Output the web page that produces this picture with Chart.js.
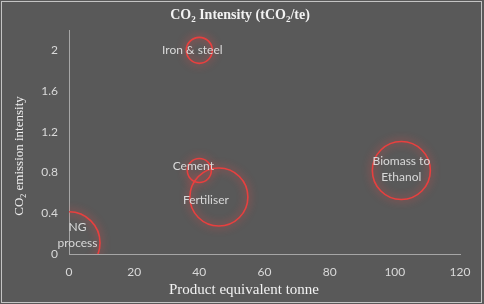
<!DOCTYPE html>
<html>
<head>
<meta charset="utf-8">
<script src="https://cdn.jsdelivr.net/npm/chart.js@4"></script>
<style>
  html, body { margin: 0; padding: 0; background: #595959; }
  #wrap { width: 484px; height: 304px; }
</style>
</head>
<body>
<div id="wrap"><canvas id="co2Chart" width="484" height="304"></canvas></div>
<script>
// data
const processes = ['Iron & steel', 'Cement', 'Fertiliser', 'Biomass to\nEthanol', 'NG\nprocess'];
const productTonnes = [40, 40, 46, 102, 0];
const emissionIntensity = [2.0, 0.82, 0.56, 0.82, 0.11];
const bubbleSize = [13, 12, 29, 29, 31];
const xTicks = [0, 20, 40, 60, 80, 100, 120];
const yTicks = [0, 0.4, 0.8, 1.2, 1.6, 2];

// where each label sits relative to its bubble centre (px)
const labelOffsets = [
    { dx: -7, dy: 0 },
    { dx: -6, dy: -4 },
    { dx: -13, dy: 3 },
    { dx: 0, dy: -1 },
    { dx: 8.5, dy: -7.5 }
];

const serif = "'Liberation Serif', 'Times New Roman', 'DejaVu Serif', serif";
const sans = "Lato, 'Open Sans', sans-serif";

// draws text pieces (some as subscripts) centred at 0,0 of the current transform
function drawSubText(ctx, parts, size, weight) {
    const sub = Math.round(size * 0.65);
    const fontFor = (isSub) => weight + ' ' + (isSub ? sub : size) + 'px ' + serif;
    const widths = parts.map(([t, isSub]) => {
        ctx.font = fontFor(isSub);
        return ctx.measureText(t).width;
    });
    let x = -widths.reduce((a, b) => a + b, 0) / 2;
    ctx.textAlign = 'left';
    ctx.textBaseline = 'middle';
    parts.forEach(([t, isSub], i) => {
        ctx.font = fontFor(isSub);
        ctx.fillText(t, x, isSub ? size * 0.3 : 0);
        x += widths[i];
    });
}

// background, frame, glow, bubble labels and titles
const decoPlugin = {
    id: 'deco',
    beforeDraw(chart) {
        const ctx = chart.ctx;
        ctx.save();
        ctx.fillStyle = '#595959';
        ctx.fillRect(0, 0, chart.width, chart.height);
        ctx.strokeStyle = '#c4c4c4';
        ctx.lineWidth = 1;
        ctx.strokeRect(1.5, 1.5, chart.width - 4, chart.height - 3);
        ctx.restore();
    },
    beforeDatasetsDraw(chart) {
        const ctx = chart.ctx;
        ctx.save();
        ctx.shadowColor = 'rgba(255, 70, 70, 0.9)';
        ctx.shadowBlur = 8;
    },
    afterDatasetsDraw(chart) {
        const ctx = chart.ctx;
        ctx.restore();

        const meta = chart.getDatasetMeta(0);
        ctx.save();
        ctx.fillStyle = '#d9d9d9';
        ctx.font = '12px ' + sans;
        ctx.textAlign = 'center';
        ctx.textBaseline = 'middle';
        meta.data.forEach((pt, i) => {
            const lines = processes[i].split('\n');
            const off = labelOffsets[i];
            const lh = 16;
            const y0 = pt.y + off.dy - (lines.length - 1) * lh / 2;
            lines.forEach((line, j) => {
                ctx.fillText(line, pt.x + off.dx, y0 + j * lh);
            });
        });
        ctx.restore();

        // chart title
        ctx.save();
        ctx.fillStyle = '#f2f2f2';
        ctx.translate(240, 15);
        drawSubText(ctx, [['CO', false], ['2', true], [' Intensity (tCO', false], ['2', true], ['/te)', false]], 14, 'bold');
        ctx.restore();

        // x axis title
        ctx.save();
        ctx.fillStyle = '#f2f2f2';
        ctx.font = '15px ' + serif;
        ctx.textAlign = 'center';
        ctx.textBaseline = 'middle';
        ctx.fillText('Product equivalent tonne', 244, 290);
        ctx.restore();

        // y axis title
        const area = chart.chartArea;
        ctx.save();
        ctx.fillStyle = '#f2f2f2';
        ctx.translate(20, (area.top + area.bottom) / 2 + 14);
        ctx.rotate(-Math.PI / 2);
        drawSubText(ctx, [['CO', false], ['2', true], [' emission intensity', false]], 13, 'normal');
        ctx.restore();
    }
};

const ctx = document.getElementById('co2Chart').getContext('2d');
const co2Chart = new Chart(ctx, {
    type: 'bubble',
    data: {
        datasets: [{
            label: 'CO2 Intensity',
            data: processes.map((p, i) => ({ x: productTonnes[i], y: emissionIntensity[i], r: bubbleSize[i] })),
            backgroundColor: 'rgba(0,0,0,0)',
            borderColor: '#e8403f',
            borderWidth: 1.6,
            hoverBorderWidth: 1.6,
            clip: 0
        }]
    },
    options: {
        responsive: false,
        animation: false,
        events: [],
        layout: { autoPadding: false, padding: { left: 0, right: 24, top: 30, bottom: 0 } },
        plugins: {
            legend: { display: false },
            tooltip: { enabled: false },
            title: { display: false }
        },
        scales: {
            x: {
                type: 'linear',
                min: 0,
                max: 120,
                afterBuildTicks: (scale) => { scale.ticks = xTicks.map(v => ({ value: v })); },
                afterFit: (scale) => { scale.height = 50; },
                grid: { display: false, drawTicks: false },
                border: { display: true, color: '#a6a6a6', width: 1 },
                ticks: { color: '#d9d9d9', font: { family: sans, size: 12 }, padding: 11, callback: (v) => String(v) }
            },
            y: {
                type: 'linear',
                min: 0,
                max: 2.2,
                afterBuildTicks: (scale) => { scale.ticks = yTicks.map(v => ({ value: v })); },
                afterFit: (scale) => { scale.width = 69; },
                grid: { display: false, drawTicks: false },
                border: { display: true, color: '#a6a6a6', width: 1 },
                ticks: { color: '#d9d9d9', font: { family: sans, size: 12 }, padding: 11, callback: (v) => String(v) }
            }
        }
    },
    plugins: [decoPlugin]
});
</script>
</body>
</html>
